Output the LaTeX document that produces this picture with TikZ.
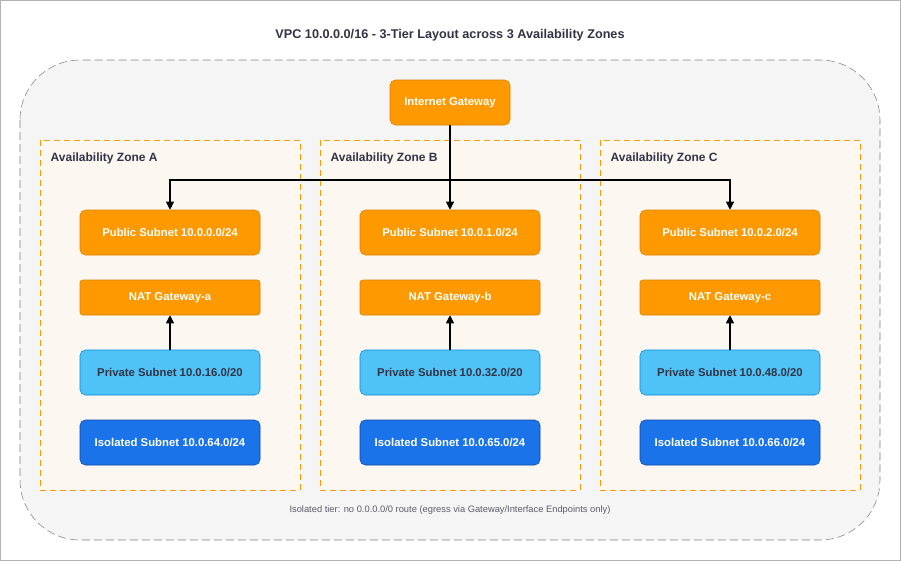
\documentclass[tikz,border=0pt]{standalone}
\usepackage{fontspec}
\setmainfont{Liberation Sans}
\usetikzlibrary{arrows.meta,positioning}
\definecolor{pubfill}{HTML}{FF9900}
\definecolor{publine}{HTML}{D98200}
\definecolor{privfill}{HTML}{4FC3F7}
\definecolor{privline}{HTML}{0288D1}
\definecolor{isofill}{HTML}{1A73E8}
\definecolor{isoline}{HTML}{0D47A1}
\definecolor{azfill}{HTML}{FDF7F2}
\definecolor{vpcfill}{HTML}{F5F5F5}
\definecolor{textdark}{HTML}{333344}
\begin{document}
\begin{tikzpicture}
    [
        x=0.75pt, y=-0.75pt,
        Subnet/.style={rectangle, rounded corners=4pt, minimum width=135pt, minimum height=33.75pt, draw, text=white, font=\bfseries\fontsize{8.5}{10}\selectfont},
        Public/.style={Subnet, fill=pubfill, draw=publine},
        Nat/.style={Subnet, fill=pubfill, draw=publine, rounded corners=2pt, minimum height=26.25pt},
        Private/.style={Subnet, fill=privfill, draw=privline, text=textdark},
        Isolated/.style={Subnet, fill=isofill, draw=isoline},
        Zone/.style={draw=pubfill, dashed, fill=azfill, dash pattern=on 4.5pt off 3pt},
        ZoneLabel/.style={anchor=west, text=textdark, font=\bfseries\fontsize{9}{11}\selectfont},
        Link/.style={-{Triangle[length=6pt,width=6pt]}, thick}
    ]

    \useasboundingbox (0,0) rectangle (901,561);
    \draw[gray!60] (0.5,0.5) rectangle (900.5,560.5);

    \node[text=textdark, font=\bfseries\fontsize{9.5}{11}\selectfont] (title) at (450,35) {VPC 10.0.0.0/16 - 3-Tier Layout across 3 Availability Zones};
    \draw[gray, dashed, fill=vpcfill, rounded corners=45pt, dash pattern=on 6pt off 3pt] (20,60) rectangle (880,540);

    \draw[Zone] (40,140) rectangle (300,490);
    \draw[Zone] (320,140) rectangle (580,490);
    \draw[Zone] (600,140) rectangle (860,490);
    \node[ZoneLabel] (zone_a) at (46,158) {Availability Zone A};
    \node[ZoneLabel] (zone_b) at (326,158) {Availability Zone B};
    \node[ZoneLabel] (zone_c) at (606,158) {Availability Zone C};

    \node[Public, minimum width=90pt] (igw) at (450,102.5) {Internet Gateway};

    \node[Public] (public_a) at (170,232.5) {Public Subnet 10.0.0.0/24};
    \node[Nat] (nat_a) at (170,297.5) {NAT Gateway-a};
    \node[Private] (private_a) at (170,372.5) {Private Subnet 10.0.16.0/20};
    \node[Isolated] (isolated_a) at (170,442.5) {Isolated Subnet 10.0.64.0/24};

    \node[Public] (public_b) at (450,232.5) {Public Subnet 10.0.1.0/24};
    \node[Nat] (nat_b) at (450,297.5) {NAT Gateway-b};
    \node[Private] (private_b) at (450,372.5) {Private Subnet 10.0.32.0/20};
    \node[Isolated] (isolated_b) at (450,442.5) {Isolated Subnet 10.0.65.0/24};

    \node[Public] (public_c) at (730,232.5) {Public Subnet 10.0.2.0/24};
    \node[Nat] (nat_c) at (730,297.5) {NAT Gateway-c};
    \node[Private] (private_c) at (730,372.5) {Private Subnet 10.0.48.0/20};
    \node[Isolated] (isolated_c) at (730,442.5) {Isolated Subnet 10.0.66.0/24};

    \coordinate (split) at (450,180);
    \draw[Link] (igw.south) -- (public_b.north);
    \draw[Link] (split) -| (public_a.north);
    \draw[Link] (split) -| (public_c.north);

    \draw[Link] (private_a) -- (nat_a);
    \draw[Link] (private_b) -- (nat_b);
    \draw[Link] (private_c) -- (nat_c);

    \node[text=textdark!80, font=\fontsize{7}{9}\selectfont] (note) at (450,510) {Isolated tier: no 0.0.0.0/0 route (egress via Gateway/Interface Endpoints only)};
\end{tikzpicture}
\end{document}
